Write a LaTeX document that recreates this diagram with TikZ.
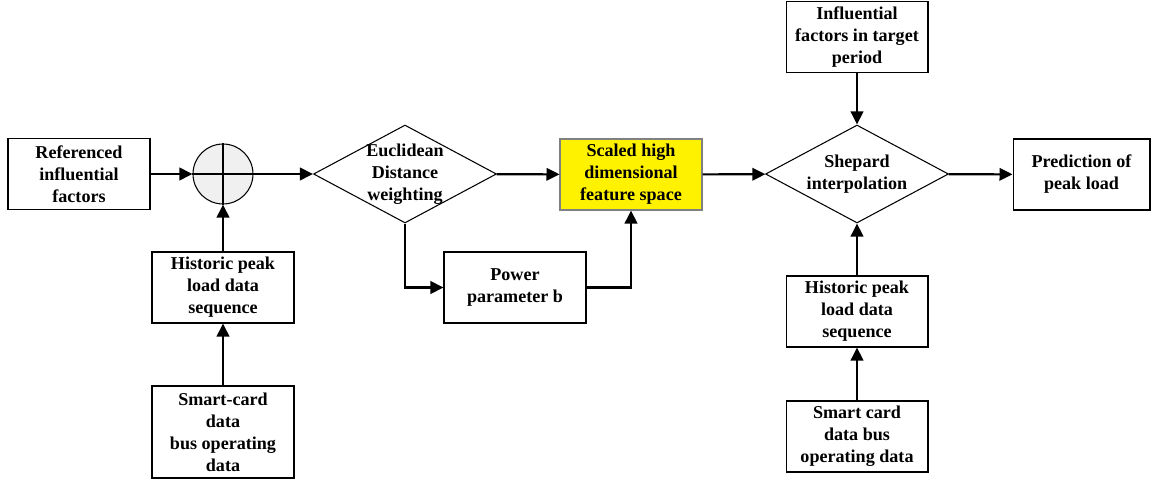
\documentclass[tikz,border=0pt]{standalone}
\usepackage{fontspec}
\setmainfont{Liberation Serif}
\usetikzlibrary{arrows.meta,positioning,shapes,shapes.geometric}
\tikzset{>={Triangle[length=2.6mm,width=2.5mm]},auto}
\tikzset{block/.style={draw,line width=0.6pt,rectangle,minimum width=2.84cm,minimum height=1.42cm,inner sep=1pt,align=center,font=\fontsize{10.3}{12.5}\selectfont\bfseries}}
\tikzset{decision/.style={draw,line width=0.6pt,diamond,inner sep=0pt,minimum width=3.66cm,minimum height=1.96cm}}
\tikzset{dtext/.style={align=center,inner sep=0pt,font=\fontsize{10.3}{12.5}\selectfont\bfseries}}
\tikzset{junction/.style={draw,line width=0.6pt,circle,fill=gray!12,minimum size=1.2cm,inner sep=0pt}}
\tikzset{flow/.style={->,line width=1.2pt}}

\begin{document}
\begin{tikzpicture}[x=0.02cm,y=-0.02cm]
    \useasboundingbox (0,0) rectangle (1151,479);
    % top row
    \node[block] (ref) at (79,174) {Referenced\\influential\\factors};
    \node[junction] (sum) at (223,174) {};
    \node[decision] (eucl) at (405,174) {};
    \node[dtext] at (eucl) {Euclidean\\Distance\\weighting};
    \node[block,fill=yellow,draw=gray] (scaled) at (631,174.5) {Scaled high\\dimensional\\feature space};
    \node[decision] (shep) at (857,174) {};
    \node[dtext] at (shep) {Shepard\\interpolation};
    \node[block,minimum width=2.74cm] (pred) at (1081.5,174.5) {Prediction of\\peak load};
    % inputs
    \node[block] (infl) at (857,37) {Influential\\factors in target\\period};
    \node[block] (hist1) at (223,287.5) {Historic peak\\load data\\sequence};
    \node[block,minimum height=1.84cm] (smart1) at (223,432) {Smart-card\\data\\bus operating\\data};
    \node[block] (power) at (515,287.5) {Power\\parameter b};
    \node[block] (hist2) at (857,311.5) {Historic peak\\load data\\sequence};
    \node[block] (smart2) at (857,436.5) {Smart card\\data bus\\operating data};
    % cross in the junction
    \draw[line width=1.2pt] (sum.north) -- (sum.south) (sum.west) -- (sum.east);
    \path[flow]
        (ref)    edge (sum)
        (sum)    edge (eucl)
        (eucl)   edge (scaled)
        (scaled) edge (shep)
        (shep)   edge (pred)
        (infl)   edge (shep)
        (hist2)  edge (shep)
        (smart2) edge (hist2)
        (hist1)  edge (sum)
        (smart1) edge (hist1)
    ;
    \draw[flow] (eucl.south) |- (power.west);
    \draw[flow] (power.east) -| (scaled.south);
\end{tikzpicture}
\end{document}
